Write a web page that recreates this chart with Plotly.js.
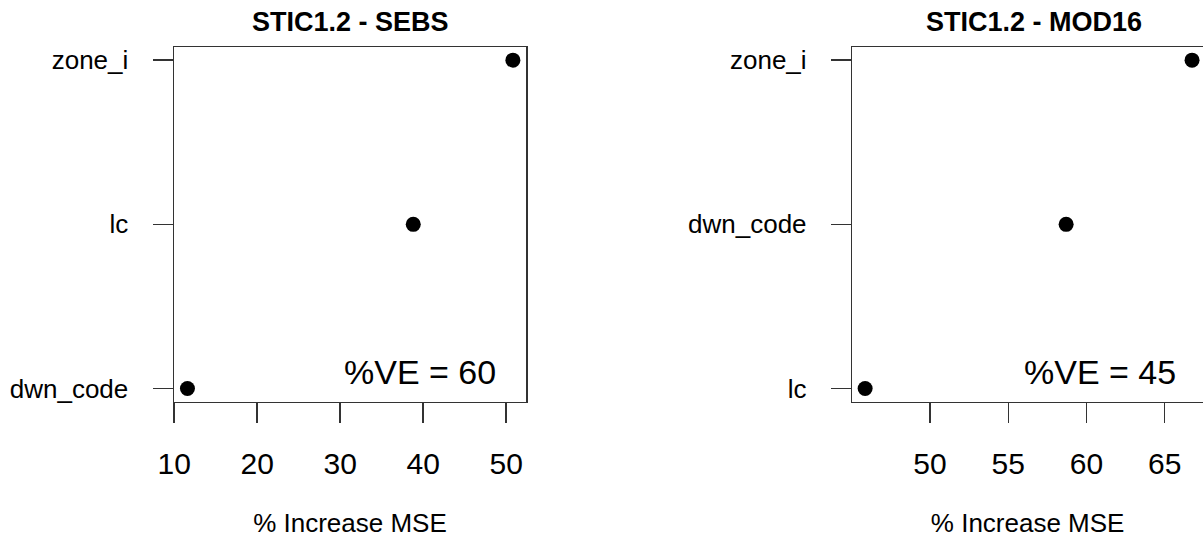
<!DOCTYPE html>
<html>
<head>
<meta charset="utf-8">
<script src="https://cdn.plot.ly/plotly-3.0.1.min.js"></script>
<style>html,body{margin:0;padding:0;background:#fff;}#chart{width:1203px;height:544px;}</style>
</head>
<body>
<div id="chart"></div>
<script>
// Panel 1: STIC1.2 - SEBS
const sebsVars = ["dwn_code", "lc", "zone_i"];
const sebsMSE = [11.6, 38.8, 50.8];
const sebsVE = 60;
// Panel 2: STIC1.2 - MOD16
const modVars = ["lc", "dwn_code", "zone_i"];
const modMSE = [45.85, 58.7, 66.75];
const modVE = 45;
const titles = ["STIC1.2 - SEBS", "STIC1.2 - MOD16"];
const xTitle = "% Increase MSE";
const ticks1 = [10, 20, 30, 40, 50];
const ticks2 = [50, 55, 60, 65];

const W = 1203, H = 544;
const fam = '"Liberation Sans", Arial, sans-serif';
const px = v => v / W, py = v => 1 - v / H;
const lineC = '#333333';

const marker = {color: '#000', size: 15, line: {width: 0}};
const traces = [
  {type: 'scatter', mode: 'markers', x: sebsMSE, y: sebsVars, xaxis: 'x', yaxis: 'y', marker: marker, hoverinfo: 'x+y'},
  {type: 'scatter', mode: 'markers', x: modMSE, y: modVars, xaxis: 'x2', yaxis: 'y2', marker: marker, hoverinfo: 'x+y'}
];

const yDom = [py(401.7), py(47)];
const xaxisBase = {
  showgrid: false, zeroline: false, showline: true, linecolor: lineC, linewidth: 1.5,
  ticks: 'outside', ticklen: 20, tickwidth: 1.5, tickcolor: lineC,
  tickfont: {family: fam, size: 30, color: '#000'}, ticklabelstandoff: 15,
  tickmode: 'array',
  title: {text: xTitle, font: {family: fam, size: 26, color: '#000'}, standoff: 34}
};
const yaxisBase = {
  showgrid: false, zeroline: false, showline: true, linecolor: lineC, linewidth: 1.5,
  ticks: 'outside', ticklen: 20, tickwidth: 1.5, tickcolor: lineC,
  tickfont: {family: fam, size: 26, color: '#000'}, ticklabelstandoff: 19,
  type: 'category', categoryorder: 'array', range: [-0.08, 2.08], domain: yDom
};

const layout = {
  width: W, height: H,
  margin: {l: 0, r: 0, t: 0, b: 0},
  paper_bgcolor: '#fff', plot_bgcolor: '#fff',
  showlegend: false,
  xaxis: Object.assign({}, xaxisBase, {domain: [px(174), px(526)], range: [9.98, 52.38], tickvals: ticks1, mirror: true, anchor: 'y'}),
  yaxis: Object.assign({}, yaxisBase, {categoryarray: sebsVars, mirror: true, anchor: 'x'}),
  xaxis2: Object.assign({}, xaxisBase, {domain: [px(852.3), 1], range: [45.03, 67.45], tickvals: ticks2, mirror: true, anchor: 'y2'}),
  yaxis2: Object.assign({}, yaxisBase, {categoryarray: modVars, anchor: 'x2'}),
  annotations: [
    {xref: 'paper', yref: 'paper', x: px(350), y: py(22), text: '<b>' + titles[0] + '</b>', showarrow: false,
     xanchor: 'center', yanchor: 'middle', font: {family: fam, size: 27, color: '#000'}},
    {xref: 'paper', yref: 'paper', x: px(1034), y: py(22), text: '<b>' + titles[1] + '</b>', showarrow: false,
     xanchor: 'center', yanchor: 'middle', font: {family: fam, size: 27, color: '#000'}},
    {xref: 'paper', yref: 'paper', x: px(420), y: py(372), text: '%VE = ' + sebsVE, showarrow: false,
     xanchor: 'center', yanchor: 'middle', font: {family: fam, size: 34, color: '#000'}},
    {xref: 'paper', yref: 'paper', x: px(1100), y: py(372), text: '%VE = ' + modVE, showarrow: false,
     xanchor: 'center', yanchor: 'middle', font: {family: fam, size: 34, color: '#000'}}
  ]
};

Plotly.newPlot('chart', traces, layout, {staticPlot: true, displayModeBar: false});
</script>
</body>
</html>
